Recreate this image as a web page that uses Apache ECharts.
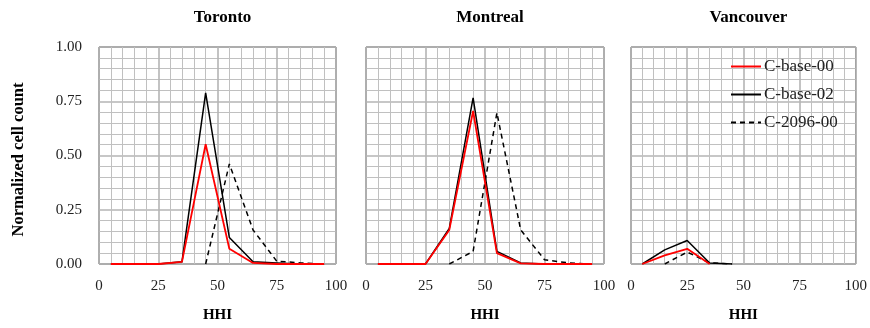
<!DOCTYPE html>
<html lang="en">
<head>
    <meta charset="UTF-8">
    <title>HHI</title>
    <script src="https://cdn.jsdelivr.net/npm/echarts@6/dist/echarts.min.js"></script>
</head>
<body style="margin:0">
<div id="main" style="width: 870px;height:328px;"></div>
<script type="text/javascript">
    // HHI bins (x), one value per bin
    var hhiBins = [5, 15, 25, 35, 45, 55, 65, 75, 85, 95];
    var cities = ['Toronto', 'Montreal', 'Vancouver'];
    var xTicks = [0, 25, 50, 75, 100];
    var yTicks = [0, 0.25, 0.5, 0.75, 1];

    var torBase00 = [0, 0, 0, 0.01, 0.552, 0.07, 0.005, 0, 0, 0];
    var torBase02 = [0, 0, 0, 0.01, 0.789, 0.122, 0.01, 0.005, 0, 0];
    var tor2096 = [null, null, null, null, 0, 0.461, 0.157, 0.013, 0.005, 0];

    var monBase00 = [0, 0, 0, 0.157, 0.705, 0.05, 0.003, 0, 0, 0];
    var monBase02 = [0, 0, 0, 0.164, 0.766, 0.058, 0.005, 0, 0, 0];
    var mon2096 = [null, null, null, 0, 0.058, 0.697, 0.157, 0.02, 0.005, 0];

    var vanBase00 = [0, 0.04, 0.07, 0, null, null, null, null, null, null];
    var vanBase02 = [0, 0.065, 0.108, 0.005, 0, null, null, null, null, null];
    var van2096 = [null, 0, 0.055, 0.005, 0, null, null, null, null, null];

    var cityData = [
        [torBase00, torBase02, tor2096],
        [monBase00, monBase02, mon2096],
        [vanBase00, vanBase02, van2096]
    ];
    var seriesNames = ['C-base-00', 'C-base-02', 'C-2096-00'];

    var font = 'Liberation Serif';
    var gridPos = [
        {left: 99, width: 237},
        {left: 366, width: 238},
        {left: 631, width: 225}
    ];

    function pairs(vals) {
        var out = [];
        for (var i = 0; i < hhiBins.length; i++) {
            if (vals[i] !== null) out.push([hhiBins[i], vals[i]]);
        }
        return out;
    }

    var grids = [], xAxes = [], yAxes = [], titles = [], series = [];
    var styles = [
        {color: '#ff0000', type: 'solid', width: 1.8},
        {color: '#000000', type: 'solid', width: 1.5},
        {color: '#000000', type: [5, 4], width: 1.5}
    ];
    for (var c = 0; c < 3; c++) {
        grids.push({left: gridPos[c].left, width: gridPos[c].width, top: 47, height: 219,
            show: true, borderColor: '#333', borderWidth: 1, backgroundColor: 'transparent'});
        titles.push({
            text: cities[c], left: gridPos[c].left + gridPos[c].width / 2, top: 4, textAlign: 'center',
            textStyle: {fontFamily: font, fontSize: 17, fontWeight: 'bold', color: '#000'}
        });
        xAxes.push({
            type: 'value', gridIndex: c, min: 0, max: 100, interval: 25,
            name: 'HHI', nameLocation: 'middle', nameGap: 44,
            nameTextStyle: {fontFamily: font, fontSize: 15, fontWeight: 'bold', color: '#000'},
            axisLine: {show: false}, axisTick: {show: false},
            axisLabel: {fontFamily: font, fontSize: 15, color: '#222', margin: 15},
            splitLine: {show: true, lineStyle: {color: '#b4b4b4', width: 1.6}},
            minorTick: {show: false, splitNumber: 5},
            minorSplitLine: {show: true, lineStyle: {color: '#c0c0c0', width: 1}}
        });
        yAxes.push({
            type: 'value', gridIndex: c, min: 0, max: 1, interval: 0.25,
            name: c === 0 ? 'Normalized cell count' : '', nameLocation: 'middle', nameGap: 72,
            nameTextStyle: {fontFamily: font, fontSize: 16.5, fontWeight: 'bold', color: '#000',
                padding: [0, 8, 0, 0]},
            axisLine: {show: false}, axisTick: {show: false},
            axisLabel: {show: c === 0, fontFamily: font, fontSize: 15, color: '#222', margin: 17,
                formatter: function (v) { return v.toFixed(2); }},
            splitLine: {show: true, lineStyle: {color: '#b4b4b4', width: 1.6}},
            minorTick: {show: false, splitNumber: 5},
            minorSplitLine: {show: true, lineStyle: {color: '#c0c0c0', width: 1}}
        });
        for (var s = 0; s < 3; s++) {
            series.push({
                name: seriesNames[s], type: 'line', xAxisIndex: c, yAxisIndex: c,
                data: pairs(cityData[c][s]), symbol: 'none', z: 3 - s + 2,
                lineStyle: {color: styles[s].color, type: styles[s].type, width: styles[s].width},
                itemStyle: {color: styles[s].color}
            });
        }
    }

    var myChart = echarts.init(document.getElementById('main'));
    var option = {
        animation: false,
        backgroundColor: '#fff',
        title: titles,
        grid: grids,
        xAxis: xAxes,
        yAxis: yAxes,
        legend: {
            data: seriesNames, orient: 'vertical', left: 725, top: 53,
            itemWidth: 30, itemHeight: 16, itemGap: 11,
            itemStyle: {opacity: 0},
            textStyle: {fontFamily: font, fontSize: 17, color: '#222', padding: [0, 0, 0, -2]}
        },
        series: series
    };
    myChart.setOption(option);
</script>
</body>
</html>
